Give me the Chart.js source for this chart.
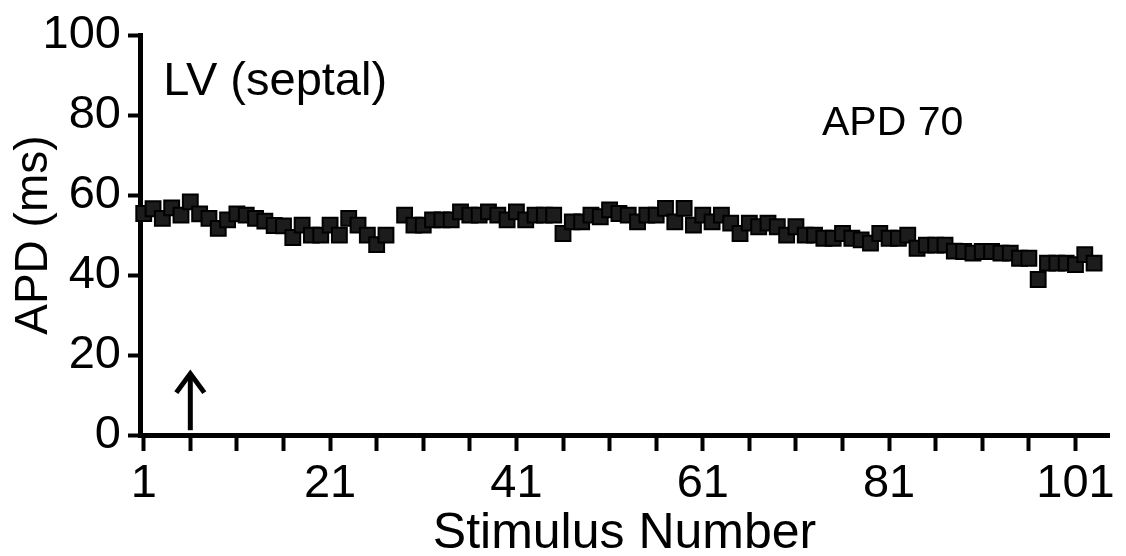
<!DOCTYPE html>
<html>
<head>
<meta charset="utf-8">
<script src="https://cdn.jsdelivr.net/npm/chart.js@4.4.1/dist/chart.umd.min.js"></script>
<style>
  html, body { margin: 0; padding: 0; background: #fff; }
</style>
</head>
<body>
<canvas id="grafico_apd" width="1126" height="556"></canvas>
<script>
// --- Dados ---
const stimulusNumbers = [
  1, 2, 3, 4, 5, 6, 7, 8, 9, 10, 11, 12, 13, 14, 15, 16, 17, 18, 19, 20,
  21, 22, 23, 24, 25, 26, 27, 28, 29, 30, 31, 32, 33, 34, 35, 36, 37, 38, 39, 40,
  41, 42, 43, 44, 45, 46, 47, 48, 49, 50, 51, 52, 53, 54, 55, 56, 57, 58, 59, 60,
  61, 62, 63, 64, 65, 66, 67, 68, 69, 70, 71, 72, 73, 74, 75, 76, 77, 78, 79, 80,
  81, 82, 83, 84, 85, 86, 87, 88, 89, 90, 91, 92, 93, 94, 95, 96, 97, 98, 99, 100,
  101, 102, 103
];
const apdValues = [
  55.4, 56.6, 54.2, 56.8, 55.0, 58.3, 55.3, 54.2, 51.7, 53.8, 55.3, 55.0, 54.2, 53.5, 52.4, 52.3, 49.4, 52.5, 50.0, 50.0,
  52.5, 50.0, 54.2, 52.5, 50.0, 47.6, 50.0, null, 55.0, 52.5, 52.5, 53.8, 53.8, 53.8, 55.8, 55.0, 55.0, 55.8, 55.0, 53.8,
  55.8, 53.8, 55.0, 55.0, 55.0, 50.4, 53.3, 53.3, 55.0, 54.6, 56.3, 55.4, 55.0, 53.3, 55.0, 55.0, 56.7, 53.3, 56.7, 52.5,
  55.0, 53.3, 55.0, 53.0, 50.4, 53.0, 52.1, 53.0, 52.1, 50.0, 52.1, 50.0, 50.0, 49.2, 49.2, 50.4, 49.2, 48.8, 48.0, 50.4,
  49.2, 49.2, 50.0, 46.7, 47.5, 47.5, 47.5, 46.0, 45.9, 45.5, 45.9, 45.9, 45.5, 45.5, 44.2, 44.2, 38.9, 43.0, 43.0, 43.0,
  42.6, 45.1, 43.0
];
const xTickMarks = [1, 6, 11, 16, 21, 26, 31, 36, 41, 46, 51, 56, 61, 66, 71, 76, 81, 86, 91, 96, 101];
const xTickLabels = [1, 21, 41, 61, 81, 101];
const yTickValues = [0, 20, 40, 60, 80, 100];
const arrowStimulus = 6;

const FONTE = '"Liberation Sans", Arial, Helvetica, sans-serif';

// --- Texto e seta desenhados por cima do gráfico ---
const anotacoes = {
  id: 'anotacoes',
  afterDraw(chart) {
    const { ctx, scales: { x, y } } = chart;
    ctx.save();
    ctx.fillStyle = '#000';
    ctx.strokeStyle = '#000';
    ctx.textBaseline = 'alphabetic';
    ctx.font = '47px ' + FONTE;
    ctx.fillText('LV (septal)', x.getPixelForValue(3.1), y.getPixelForValue(85));
    ctx.font = '41px ' + FONTE;
    ctx.fillText('APD 70', x.getPixelForValue(73.8), y.getPixelForValue(75));

    // seta do estímulo
    const ax = x.getPixelForValue(arrowStimulus);
    const topo = y.getPixelForValue(15.6);
    const base = y.getPixelForValue(1.2);
    ctx.lineWidth = 5;
    ctx.beginPath();
    ctx.moveTo(ax, base);
    ctx.lineTo(ax, topo + 3);
    ctx.stroke();
    ctx.beginPath();
    ctx.moveTo(ax - 14, topo + 20);
    ctx.lineTo(ax, topo + 1);
    ctx.lineTo(ax + 14, topo + 20);
    ctx.stroke();
    ctx.restore();
  }
};

Chart.defaults.font.family = FONTE;
Chart.defaults.color = '#000';

const ctx = document.getElementById('grafico_apd');
new Chart(ctx, {
  type: 'scatter',
  data: {
    datasets: [{
      label: 'APD 70',
      data: stimulusNumbers.map((s, i) => ({ x: s, y: apdValues[i] })),
      pointStyle: 'rect',
      pointRadius: 10.5,
      pointHoverRadius: 10.5,
      backgroundColor: '#1c1c1c',
      borderColor: '#000',
      borderWidth: 2,
      showLine: false,
      clip: false
    }]
  },
  options: {
    responsive: false,
    animation: false,
    layout: { padding: { left: 0, top: 32, right: 17, bottom: 0 } },
    plugins: { legend: { display: false }, tooltip: { enabled: false } },
    scales: {
      x: {
        type: 'linear',
        min: 0.6,
        max: 104.6,
        z: 1,
        afterBuildTicks: (scale) => { scale.ticks = xTickMarks.map(v => ({ value: v })); },
        afterFit: (scale) => { scale.height = 121; },
        ticks: {
          autoSkip: false,
          maxRotation: 0,
          padding: 5,
          font: { size: 47 },
          callback: (v) => xTickLabels.includes(v) ? String(v) : ''
        },
        grid: { drawOnChartArea: false, drawTicks: true, tickLength: 16, tickWidth: 4, tickColor: '#000' },
        border: { display: true, color: '#000', width: 5 },
        title: { display: true, text: 'Stimulus Number', font: { size: 50 }, padding: { top: 0, bottom: -8 } }
      },
      y: {
        min: 0,
        max: 100,
        z: 1,
        afterBuildTicks: (scale) => { scale.ticks = yTickValues.map(v => ({ value: v })); },
        afterFit: (scale) => { scale.width = 140; },
        ticks: { padding: 7, font: { size: 47 } },
        grid: { drawOnChartArea: false, drawTicks: true, tickLength: 12, tickWidth: 4, tickColor: '#000' },
        border: { display: true, color: '#000', width: 5 },
        title: { display: true, text: 'APD (ms)', font: { size: 46 }, padding: { top: 7, bottom: 0 } }
      }
    }
  },
  plugins: [anotacoes]
});
</script>
</body>
</html>
